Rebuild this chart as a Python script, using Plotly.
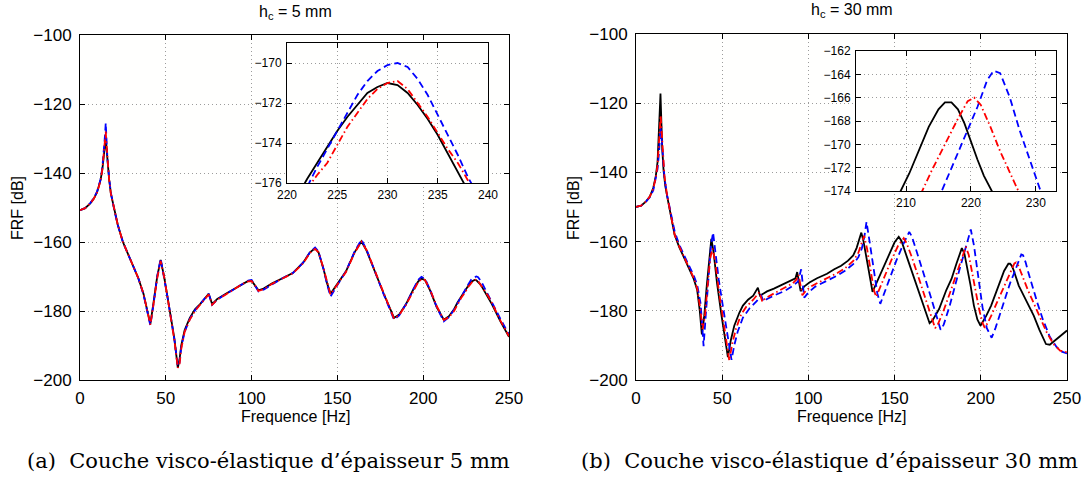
import plotly.graph_objects as go

# ---------------- data: h_c = 5 mm ----------------
freq_5 = [0, 3, 6, 8, 10, 12, 13, 14, 14.5, 15, 15.5, 16, 17, 18, 20, 22, 25, 28, 31, 34,
          37, 39, 41, 43, 45, 47, 49, 51, 53, 55, 57, 58, 59, 61, 64, 67, 70, 73, 75, 77,
          80, 85, 90, 95, 98, 100, 102, 104, 107, 112, 118, 124, 130, 134, 137, 139, 142, 144, 146, 150,
          155, 160, 164, 167, 172, 177, 183, 186, 190, 194, 197, 199, 201, 204, 208, 212, 215, 218,
          220, 221, 222, 223, 224, 225, 226, 227, 228, 229, 230, 231, 232, 233, 234, 235, 236, 237, 238, 239, 240,
          245, 250]

black_5 = [-150.8, -150.2, -148.8, -147.5, -145.5, -142, -139, -135, -132.5, -130,
           -133, -137, -142, -146, -151, -155, -160, -163.5, -167, -170.5,
           -175, -179, -183.8, -177, -170, -165.2, -170, -176, -182, -188,
           -196.5, -194, -190, -185.5, -182, -179.5, -178, -176, -175, -178,
           -176.5, -175, -173.5, -172, -171.3, -171.2, -172.5, -174, -173.5, -172,
           -170.5, -169, -166, -163, -161.8, -163, -168, -172, -175, -172,
           -168.5, -163, -159.8, -162.5, -169, -175, -182, -181, -178, -174,
           -171.5, -170.6, -171, -174, -179, -182.5, -181.5, -179.5,
           -177.5, -176.7, -175.8, -175.0, -174.2, -173.4, -172.7, -172.1, -171.5, -171.2, -171.0,
           -171.1, -171.5, -172.1, -172.8, -173.6, -174.5, -175.4, -176.3, -177.1, -178.0,
           -183, -187.5]

red_5 = [-150.8, -150.2, -148.8, -147.5, -145.6, -142.2, -139, -134.5, -131, -128,
         -132, -136.5, -142, -146, -151, -155, -160, -163.5, -167, -170.5,
         -175, -179.2, -184, -177.5, -170.5, -165.5, -170, -176, -182, -188.5,
         -196.5, -195.5, -191, -186, -182.5, -180, -178.2, -176.2, -175.2, -178.2,
         -176.7, -175.2, -173.6, -172.1, -171.4, -171.3, -172.6, -174.2, -173.7, -172.1,
         -170.6, -169.1, -166.2, -163.2, -162, -163, -167.8, -171.8, -175.2, -172.3,
         -168.7, -163.2, -159.9, -162.3, -168.8, -174.8, -182.2, -181.2, -178.2, -174.3,
         -171.7, -170.8, -171, -173.8, -178.7, -182.6, -181.8, -180,
         -178.0, -177.1, -176.3, -175.6, -175.0, -174.1, -173.2, -172.5, -171.8, -171.3, -171.0,
         -170.9, -171.3, -172.0, -172.7, -173.5, -174.3, -175.0, -175.8, -176.7, -177.6,
         -182.8, -187.3]

blue_5 = [-150.8, -150.2, -148.7, -147.3, -145.3, -141.8, -138.5, -133.5, -129.5, -125.5,
          -131, -136, -141.5, -145.8, -150.8, -155, -160, -163.5, -167, -170.5,
          -175.2, -179.5, -184.2, -177.5, -170, -164.8, -170, -176, -182, -188.3,
          -196, -195, -190.5, -186, -182.3, -179.8, -178, -176, -175, -178.2,
          -176.7, -175.1, -173.6, -172, -171.2, -171, -172.5, -174.3, -173.8, -172.2,
          -170.5, -169, -166, -163, -161.6, -162.8, -168, -172.3, -175.8, -172.5,
          -168.5, -162.8, -159.3, -162.2, -169, -175.2, -182.5, -181.3, -178, -173.8,
          -171, -170.1, -170.6, -173.8, -179, -183, -181.8, -179.6,
          -177.7, -176.9, -176.2, -175.2, -174.3, -173.4, -172.5, -171.6, -170.9, -170.4, -170.1,
          -170.0, -170.2, -170.8, -171.6, -172.6, -173.6, -174.6, -175.7, -176.7, -177.6,
          -182.3, -186.8]

# ---------------- data: h_c = 30 mm ----------------
freq_30_black = [0, 3, 6, 8, 10, 11.5, 12.5, 13.3, 13.8, 14.2, 14.6, 15.2, 16, 17, 18.5, 20, 22.4, 25, 27.4, 30,
                 33.5, 35.5, 37, 38.2, 39.5, 41, 42.5, 43.7, 45, 47, 49.5, 51.5, 53.3, 55, 57, 60, 62, 65, 68, 70.7,
                 72, 73, 76, 80, 86, 90, 92.5, 93.5, 95.5, 97.5, 100.6, 105, 110.8, 115, 119, 123, 126, 128, 129.5, 130.7,
                 132, 134, 135.5, 137.2, 139, 142.3, 147.4, 150, 152.4, 154, 157.5, 162, 166, 169, 170.3, 172, 175.8, 180, 183, 186,
                 189, 190.5, 192, 194, 196, 198, 199.8, 201.5, 203.2, 206, 209, 210.5, 212, 213.5, 215, 216, 217, 218, 219, 220,
                 221, 222, 223.3, 226, 230.7, 234, 237.8, 240, 243, 246, 250]
black_30 = [-150, -149.6, -148.3, -147, -144.5, -141, -137, -130, -122, -117.2, -124, -133, -139.5, -144, -148, -151.5, -158, -161.5, -164, -167,
            -170.8, -174, -180, -186.8, -182, -173, -164, -159.2, -163, -172, -181, -188, -193.4, -188.5, -184.3, -180.5, -178.5, -176.8, -175.6, -173.3,
            -175.8, -175.3, -174.4, -173.6, -172.2, -171.3, -170.6, -168.8, -174.3, -173, -171.8, -170.6, -169.3, -168, -167, -165.5, -164, -161.8, -159.5, -157.4,
            -160, -165.5, -170.5, -174.5, -172.5, -168.9, -163.1, -160.2, -158.6, -159.8, -165, -171.5, -177, -182, -183.6, -182.8, -179.5, -174, -170.8, -166.2,
            -161.9, -163.5, -167, -172.5, -178.5, -182.5, -184.3, -183, -181.4, -178.5, -174.2, -172.5, -170.5, -168.5, -167, -166.4, -166.4, -167, -168.2, -169.8,
            -171.3, -172.7, -174, -176.8, -181.4, -185.5, -189.6, -189.8, -188.6, -187.5, -185.7]

freq_30_red = [0, 3, 6, 8, 10, 11.5, 12.5, 13.4, 14.3, 15, 15.7, 16.5, 18, 20, 22.4, 25, 27.4, 30, 33.5, 35.5,
               37.2, 38.6, 40, 41.5, 43, 44.4, 46, 48, 50.5, 52.5, 54.1, 55.8, 58, 61, 64, 68, 71.6, 73.3, 75, 80,
               86, 91, 93, 94.3, 96.5, 98.5, 102, 107, 112, 117, 121, 126, 129, 130.7, 132.3, 134, 136, 138, 139.3, 141,
               144, 148, 152, 155.3, 157, 160, 164, 168, 171, 173.5, 175, 178, 182, 186, 189, 191.3, 193, 195, 197, 199,
               201, 202.3, 204, 206, 209, 212.5, 214, 216, 218, 219.5, 220.5, 221.5, 223, 224.5, 226, 227.3, 230, 234, 238, 242,
               246, 250]
red_30 = [-150, -149.6, -148.3, -147, -144.8, -141.5, -138, -132, -123.5, -129, -136, -141, -146.5, -151.5, -158, -161.3, -163.8, -166.8, -170.5, -173.5,
          -179, -185.3, -181.5, -173, -165, -162, -166, -174, -182, -189, -194.4, -189.5, -185.2, -181, -178.8, -176.8, -174.6, -177.4, -176.4, -175,
          -173.4, -172, -171, -169.6, -175.5, -174.2, -172.8, -171.6, -170.4, -169, -167.8, -165.6, -163.2, -160.5, -158.3, -162, -168, -174, -176, -174,
          -170, -165.5, -161.2, -159, -160.5, -164.5, -170.5, -176.5, -181.5, -185, -184, -180.5, -175, -169.3, -164.5, -161.5, -163.8, -169, -174.5, -179.5,
          -183.5, -184.9, -183.5, -181.5, -178, -174, -172.2, -170, -167.8, -166.3, -166, -166.6, -168.5, -170.6, -172.5, -174, -177, -181.5, -186, -189.5,
          -191.5, -192]

freq_30_blue = [0, 3, 6, 8, 10, 11.5, 12.5, 13.4, 14.2, 15, 15.8, 16.5, 18, 20, 22.4, 25, 27.4, 30, 33.5, 35.5,
                37.5, 39.2, 40.5, 42, 43.5, 44.7, 46, 48, 50.5, 53, 55.4, 57, 59, 62, 66, 70, 72.6, 74, 76, 80,
                86, 91, 94, 95.8, 97.6, 100, 104, 110, 116, 121, 126, 129, 131, 132.5, 133.7, 135.5, 137.5, 140, 141.7, 143.5,
                147, 151, 155, 158.5, 160, 163, 167, 171, 174, 176.7, 178.5, 182, 186, 189.5, 192, 194.2, 196, 198.5, 201, 203.5,
                206.3, 208.5, 211, 213.5, 215.5, 217, 219, 221, 222.5, 223.5, 224.5, 226, 227.5, 229, 230.5, 233, 236, 240, 244, 247,
                250]
blue_30 = [-150, -149.6, -148.3, -147.2, -145.2, -142, -139, -134, -127, -131, -137.5, -141.5, -146.5, -151, -157, -160.8, -163.2, -166.2, -169.8, -172.5,
           -178, -190.2, -181, -170, -161, -157.4, -163, -171, -179, -187, -194.2, -190, -186, -182, -179.2, -177.2, -175.6, -177.3, -176.6, -175.6,
           -174.3, -172.8, -171.5, -168, -176.2, -174.7, -173, -171.5, -170, -168.5, -166.5, -164.5, -162, -158.5, -154.3, -160, -167, -175, -178, -175.5,
           -170.5, -165.5, -160.8, -157.2, -158.5, -163, -169.5, -176, -181, -185.5, -184, -178.5, -171, -165, -161, -156.5, -161, -170, -179, -185,
           -187.8, -185, -181, -177, -174, -172, -169.5, -166.8, -164.5, -163.7, -163.9, -166, -168.8, -171.5, -174, -178, -182.5, -187.5, -190.5, -191.8,
           -192.3]

# ---------------- axis ticks ----------------
main_xticks = [0, 50, 100, 150, 200, 250]
main_yticks = [-200, -180, -160, -140, -120, -100]
inset5_xticks = [220, 225, 230, 235, 240]
inset5_yticks = [-176, -174, -172, -170]
inset30_xticks = [210, 220, 230]
inset30_yticks = [-174, -172, -170, -168, -166, -164, -162]

W, H = 1089, 484
BLACK, RED, BLUE = "#000000", "#ff0000", "#0000ff"
SANS = "Liberation Sans, Arial, Helvetica, sans-serif"
SERIF = "DejaVu Serif, Liberation Serif, serif"

fig = go.Figure()


def add_series(x, y, color, dash, xa, ya, width=1.8):
    fig.add_trace(go.Scatter(x=x, y=y, mode="lines", xaxis=xa, yaxis=ya,
                             line=dict(color=color, dash=dash, width=width),
                             showlegend=False, hoverinfo="skip"))


DASH_BLUE = "7px,4px"
DASH_RED = "7px,3px,1.5px,3px"

# main left (x, y) and inset left (x3, y3)
for xa, ya in (("x", "y"), ("x3", "y3")):
    add_series(freq_5, black_5, BLACK, "solid", xa, ya)
    add_series(freq_5, blue_5, BLUE, DASH_BLUE, xa, ya)
    add_series(freq_5, red_5, RED, DASH_RED, xa, ya)

# main right (x2, y2) and inset right (x4, y4)
for xa, ya in (("x2", "y2"), ("x4", "y4")):
    add_series(freq_30_black, black_30, BLACK, "solid", xa, ya)
    add_series(freq_30_blue, blue_30, BLUE, DASH_BLUE, xa, ya)
    add_series(freq_30_red, red_30, RED, DASH_RED, xa, ya)


def px_x(a, b):
    return [a / W, b / W]


def px_y(top, bottom):
    return [1 - bottom / H, 1 - top / H]


def axis(domain, rng, ticks, anchor, size, standoff):
    return dict(domain=domain, range=rng, tickmode="array", tickvals=ticks,
                showline=True, linecolor="black", linewidth=1, mirror="ticks",
                ticks="inside", ticklen=5, tickcolor="black", tickwidth=1,
                showgrid=True, gridcolor="#9c9c9c", griddash="1px,3px", gridwidth=1,
                zeroline=False, anchor=anchor, fixedrange=True, automargin=False,
                ticklabelstandoff=standoff,
                tickfont=dict(family=SANS, size=size, color="black"))


fig.update_layout(
    width=W, height=H,
    margin=dict(l=0, r=0, t=0, b=0, autoexpand=False),
    paper_bgcolor="white",
    plot_bgcolor="#fffffe",
    hovermode=False,
    xaxis=axis(px_x(80, 509), [0, 250], main_xticks, "y", 17, 3),
    yaxis=axis(px_y(35, 380), [-200, -100], main_yticks, "x", 17, 4),
    xaxis2=axis(px_x(636, 1067), [0, 250], main_xticks, "y2", 17, 3),
    yaxis2=axis(px_y(34, 380), [-200, -100], main_yticks, "x2", 17, 4),
    xaxis3=axis(px_x(287, 488), [220, 240], inset5_xticks, "y3", 12, 1),
    yaxis3=axis(px_y(43, 183), [-176, -169], inset5_yticks, "x3", 12, 2),
    xaxis4=axis(px_x(856, 1056), [202.3, 233.1], inset30_xticks, "y4", 12, 1),
    yaxis4=axis(px_y(51, 191), [-174, -162], inset30_yticks, "x4", 12, 2),
)

annotations = [
    dict(text="h<sub>c</sub> = 5 mm", x=295 / W, y=1 - 13 / H, font=dict(size=16)),
    dict(text="h<sub>c</sub> = 30 mm", x=852 / W, y=1 - 11 / H, font=dict(size=16)),
    dict(text="FRF [dB]", x=17 / W, y=1 - 208 / H, textangle=-90, font=dict(size=16)),
    dict(text="FRF [dB]", x=573 / W, y=1 - 208 / H, textangle=-90, font=dict(size=16)),
    dict(text="Frequence [Hz]", x=295 / W, y=1 - 416 / H, font=dict(size=16)),
    dict(text="Frequence [Hz]", x=851 / W, y=1 - 416 / H, font=dict(size=16)),
    dict(text="(a)  Couche visco-élastique d’épaisseur 5 mm", x=268 / W, y=1 - 461 / H,
         font=dict(size=21, family=SERIF)),
    dict(text="(b)  Couche visco-élastique d’épaisseur 30 mm", x=829 / W, y=1 - 461 / H,
         font=dict(size=21, family=SERIF)),
]
for a in annotations:
    f = dict(family=SANS, color="black")
    f.update(a.pop("font"))
    fig.add_annotation(xref="paper", yref="paper", showarrow=False,
                       xanchor="center", yanchor="middle", font=f, **a)

fig.write_html("out.html",
               config={"displayModeBar": False, "staticPlot": True},
               post_script="document.body.style.margin='0px';document.body.style.padding='0px';")
